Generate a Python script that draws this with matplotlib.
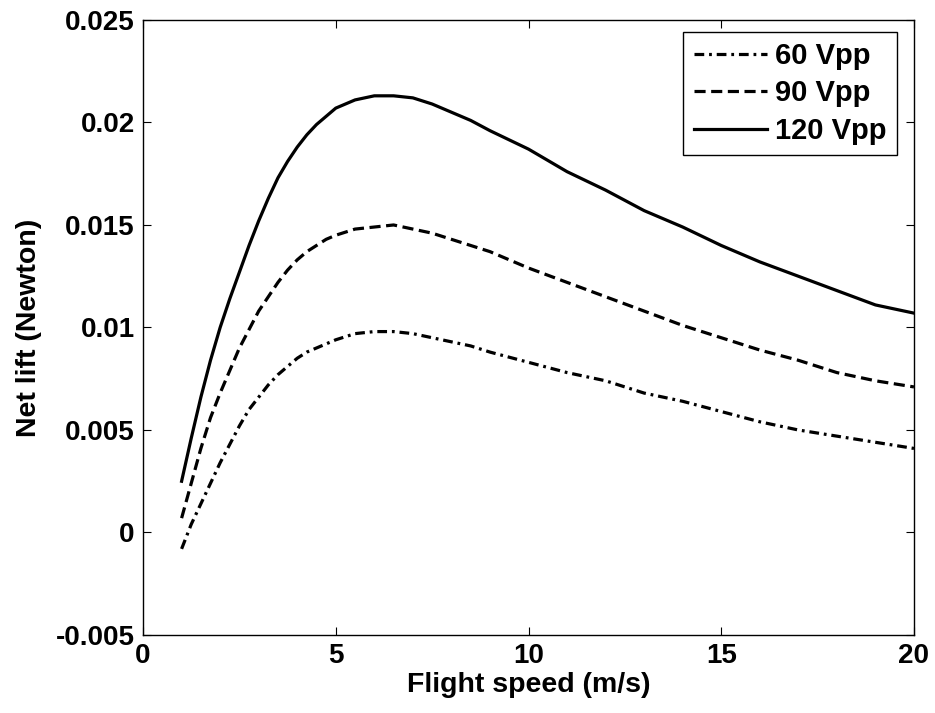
import matplotlib
matplotlib.use("Agg")
import matplotlib.pyplot as plt

speed = [1.0, 1.25, 1.5, 1.75, 2.0, 2.25, 2.5, 2.75, 3.0, 3.25, 3.5, 3.75, 4.0, 4.25, 4.5,
         4.75, 5.0, 5.5, 6.0, 6.5, 7.0, 7.5, 8.0, 8.5, 9.0, 10, 11, 12, 13, 14, 15, 16,
         17, 18, 19, 20]

lift_120 = [0.0025, 0.0046, 0.0066, 0.0084, 0.0100, 0.0114, 0.0127, 0.0140, 0.0152, 0.0163,
            0.0173, 0.0181, 0.0188, 0.0194, 0.0199, 0.0203, 0.0207, 0.0211, 0.0213, 0.0213,
            0.0212, 0.0209, 0.0205, 0.0201, 0.0196, 0.0187, 0.0176, 0.0167, 0.0157, 0.0149,
            0.0140, 0.0132, 0.0125, 0.0118, 0.0111, 0.0107]

lift_90 = [0.0007, 0.0024, 0.0041, 0.0056, 0.0068, 0.0079, 0.0090, 0.0099, 0.0108, 0.0115,
           0.0122, 0.0128, 0.0133, 0.0137, 0.0140, 0.0143, 0.0145, 0.0148, 0.0149, 0.0150,
           0.0148, 0.0146, 0.0143, 0.0140, 0.0137, 0.0129, 0.0122, 0.0115, 0.0108, 0.0101,
           0.0095, 0.0089, 0.0084, 0.0078, 0.0074, 0.0071]

lift_60 = [-0.0008, 0.0004, 0.0014, 0.0024, 0.0034, 0.0043, 0.0052, 0.0060, 0.0066, 0.0072,
           0.0077, 0.0081, 0.0085, 0.0088, 0.0090, 0.0092, 0.0094, 0.0097, 0.0098, 0.0098,
           0.0097, 0.0095, 0.0093, 0.0091, 0.0088, 0.0083, 0.0078, 0.0074, 0.0068, 0.0064,
           0.0059, 0.0054, 0.0050, 0.0047, 0.0044, 0.0041]

labels = ["60 Vpp", "90 Vpp", "120 Vpp"]
xticks = [0, 5, 10, 15, 20]
yticks = [-0.005, 0, 0.005, 0.01, 0.015, 0.02, 0.025]
ytick_labels = ["-0.005", "0", "0.005", "0.01", "0.015", "0.02", "0.025"]

plt.rcParams['font.family'] = ['Liberation Sans', 'DejaVu Sans']
plt.rcParams['font.weight'] = 'bold'
plt.rcParams['lines.scale_dashes'] = False

fig = plt.figure(figsize=(9.35, 7.13), dpi=100)
ax = fig.add_axes([0.153, 0.1094, 0.8245, 0.8626])

lw = 2.3
ax.plot(speed, lift_60, color='black', lw=lw, linestyle=(0, (7, 3.5, 2, 3.5)), label=labels[0])
ax.plot(speed, lift_90, color='black', lw=lw, linestyle=(0, (8, 4)), label=labels[1])
ax.plot(speed, lift_120, color='black', lw=lw, linestyle='-', label=labels[2])

ax.set_xlim(0, 20)
ax.set_ylim(-0.005, 0.025)
ax.set_xticks(xticks)
ax.set_xticklabels([str(t) for t in xticks])
ax.set_yticks(yticks)
ax.set_yticklabels(ytick_labels)
ax.tick_params(direction='in', length=6, width=0.8, top=True, right=True,
               labelsize=20, pad=6)
for lab in ax.get_xticklabels() + ax.get_yticklabels():
    lab.set_fontweight('bold')
for s in ax.spines.values():
    s.set_linewidth(1.0)

ax.set_xlabel("Flight speed (m/s)", fontsize=20.5, fontweight='bold', labelpad=2)
ax.set_ylabel("Net lift (Newton)", fontsize=20.5, fontweight='bold', labelpad=10)

leg = ax.legend(loc='upper right', bbox_to_anchor=(0.978, 0.981), fontsize=21,
                frameon=True, fancybox=False, edgecolor='black', framealpha=1,
                handlelength=2.5, handletextpad=0.3, labelspacing=0.33,
                borderpad=0.35, borderaxespad=0)
leg.get_frame().set_linewidth(1.0)
for t in leg.get_texts():
    t.set_fontweight('bold')

fig.savefig("out.png", dpi=100)
